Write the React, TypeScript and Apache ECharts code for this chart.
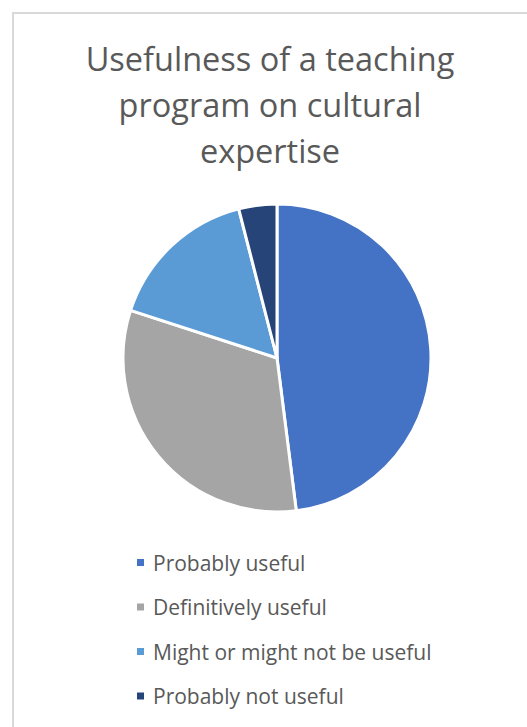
import React, { useEffect, useRef } from "react";
import * as echarts from "echarts";

const categories = ["Probably useful", "Definitively useful", "Might or might not be useful", "Probably not useful"];
const values = [12, 8, 4, 1];
const colors = ["#4472C4", "#A5A5A5", "#5B9BD5", "#264478"];
const titleText = "Usefulness of a teaching\nprogram on cultural\nexpertise";

export default function App() {
  const ref = useRef<HTMLDivElement>(null);
  useEffect(() => {
    const chart = echarts.init(ref.current!, null, { renderer: "svg" });
    chart.setOption({
      animation: false,
      backgroundColor: "#ffffff",
      graphic: [
        {
          type: "rect",
          shape: { x: 13, y: 13, width: 530, height: 730 },
          style: { fill: "none", stroke: "#d9d9d9", lineWidth: 2 },
          silent: true,
        },
        {
          type: "text",
          x: 270,
          y: 35,
          style: {
            text: titleText,
            fill: "#595959",
            font: "32.5px 'Open Sans'",
            textAlign: "center",
            textVerticalAlign: "top",
            lineHeight: 46,
          },
        },
      ],
      legend: {
        orient: "vertical",
        left: 135,
        top: 552,
        padding: 0,
        itemWidth: 9,
        itemHeight: 9,
        itemGap: 23.5,
        icon: "rect",
        textStyle: { color: "#595959", fontSize: 21, lineHeight: 21, fontFamily: "Open Sans", padding: [0, 0, 0, 3] },
        data: categories,
      },
      series: [
        {
          type: "pie",
          center: [277, 358],
          radius: 154,
          startAngle: 90,
          clockwise: true,
          label: { show: false },
          labelLine: { show: false },
          itemStyle: { borderColor: "#ffffff", borderWidth: 3 },
          emphasis: { disabled: true },
          data: categories.map((name, i) => ({ name, value: values[i], itemStyle: { color: colors[i] } })),
        },
      ],
    });
    return () => chart.dispose();
  }, []);
  return <div ref={ref} style={{ position: "absolute", left: 0, top: 0, width: 527, height: 727 }} />;
}
